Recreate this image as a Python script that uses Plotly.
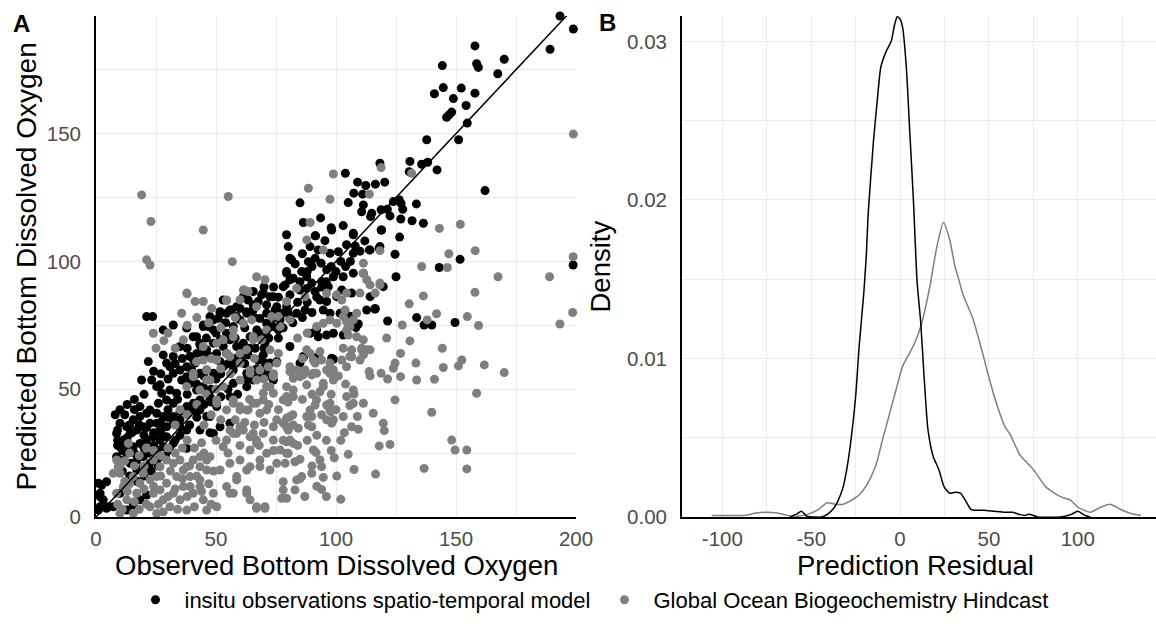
import plotly.graph_objects as go

# ---------------- data ----------------
insitu_points = [
    (193.3,196),(198.9,190.9),(189.2,183),(157.9,184.3),(170.1,179.1),(158.6,177.3),(159.3,175.9),(167.4,173.4),
    (144.3,176.6),(144.7,168),(141,165.6),(152.2,167.8),(157.9,165.8),(148.9,163.7),(154.2,161),(148.2,158.4),
    (147.1,157.3),(146.1,156.4),(154.7,154.1),(137.8,147.6),(151.1,147.6),(130.8,139.1),(118.3,138.4),(135.7,138),
    (138.2,138.8),(142.1,135.8),(130.5,135.1),(162.1,127.7),(103.9,134.5),(109,131),(112.4,129.7),(116.4,130.2),
    (120.3,131),(107.4,126.7),(111.1,126.3),(105.1,123),(111.4,122.1),(110.7,119.4),(114.9,118.8),(114.4,117.5),
    (118.8,120.2),(121.4,120.4),(122.5,117.8),(123.9,123.4),(126.3,124.1),(127.1,122.7),(127.8,120.4),(133.5,122.5),
    (127,116.6),(131.7,115.9),(136.4,114.9),(118.8,112.3),(126.5,109.5),(103,114),(98,113.2),(93.6,117),
    (86.4,115.2),(85,122.9),(91.3,110),(107.2,111),
    (198.8,98.6),(143,97.6),(151.7,100.8),(124.6,102.8),(118,105.1),(113.9,104.5),(125,94),
    (116.3,81.3),(121.5,76.7),(133.6,78),(136.7,75.1),(139.9,75.1),(149.6,76.1),(109.3,75.5),(108.3,74.1),
    (98.9,61.7),(86.4,62.5),(103,71.2),
    (79.4,110.4),(80.1,105.8),(80.8,101.2),(91.5,110),(95.4,108.1),(98.2,112.3),(89.2,105.8),(92.6,104.5),
    (91.3,101.2),(93.8,99.3),(88.5,99.9),(97.5,103.2),(101,103.8),(107.2,110.4),(104.4,106.5),(107.2,103.2),
    (96.1,96.7),(98.9,94),(94,92.1),(96.8,90.1),(79.4,96),(82.2,93.4),(85.7,96),(87.8,94),(89.9,91.5),
    (103,94),(107.2,95.4),(111.4,95.4),(114.2,104.5),(118.3,105.8),(119,112.3),(102.4,88.8),(106.5,87.6),
    (100.3,86.2),(96.1,84.3),(78.8,90.8),(80.8,86.9),(85,88.8),(87.8,89.4),(91.3,88.2),(93.3,84.9),
    (116.3,81.6),(119.7,90.1),(114.2,86.2),(73.9,86.2),(69,86.9),(67.6,84.3),(71.1,83),(74.6,81),(77.4,79.7),
    (79.4,82.3),(61.4,86.2),(63.4,84.9),(65.5,83),(60,81.6),(62.8,80.3),(53,84.9),(56.5,81),(58.6,78.4),
    (51.7,80.3),(54.4,79.7),(50.9,77.7),(47.5,78.4),(44.7,74.5),(46.8,74.5),(48.9,73.2),(68.3,77.7),(71.1,75.8),
    (73.9,74.5),(76.7,77.1),(80.8,77.7),(83.6,79.7),(87.1,81),(94.7,81),(97.5,79.7),(101.7,79.7),(104.4,79.1),
    (106.5,78.4),(112.8,81),(98.9,71.9),(96.1,71.2),(91.9,73.2),(89.2,71.9),(80.8,66.7),(86.4,62.8),(85,60.2),
    (92.6,62.8),(98.2,62.1),(92.6,70.5),(70.4,68),(69.7,63.4),(72.5,60.2),(75.3,60.8),(76,73.2),(71.1,70.5),
    (67,73.2),(64.2,70.5),(61.4,68),(66.3,66),(63.4,63.4),(67.6,61.4),(60,62.8),(58.6,66.7),(55.8,69.3),
    (53,66.7),(54.4,64),(50.3,64),(51.7,60.8),(47.5,62.8),(44.7,64),(44.7,75.1),(41.9,70.5),(43.3,67.3),
    (39.2,62.8),(41.3,60.2),(39.9,57.5),(43.3,56.2),(46.1,57.5),(48.9,56.2),(53,58.8),(57.2,57.5),(61.4,60.2),
    (65.5,56.2),(69,55.6),(70.4,60.2),(39.2,52.3),(41.9,49.7),(44.7,51),(47.5,47.1),(43.3,44.5),(40.5,41.9),
    (57.2,52.3),(62.8,51),(55.8,47.1),(70.4,54.6),
    (21.1,78.4),(23.6,78.4),(21.8,60.8),(19,53.6),(23.2,53.6),(28,63.4),(32.2,62.8),(30.8,58.8),(29.4,60.2),
    (32.2,56.2),(35,57.5),(37.8,58.8),(40.6,61.4),(37.8,54.9),(35.7,53.6),(41.3,55.6),(25.3,51),(27.4,48.4),
    (30.8,49.7),(33.6,48.4),(29.4,45.8),(32.2,44.5),(26,44.5),(18.3,43.2),(22.5,41.9),(25.3,40.6),(28,39.3),
    (32.2,39.3),(35,41.2),(37.8,43.2),(40.6,44.5),(43.3,45.8),(46.1,48.4),(43.3,41.9),(47.5,39.3),(50.3,43.2),
    (51.7,35.3),(55.8,36.7),(48.9,32.7),(32.2,36.7),(35,35.3),(37.8,34),(29.4,35.3),(26.7,34),(43.3,34),(47.5,33),
    (10,36.7),(12.8,35.3),(15.5,38),(18.3,39.3),(21.1,40.6),(8.6,32.7),(11.4,30.1),(14.2,32.7),(17,34),
    (19.7,35.3),(22.5,36.7),(25.3,36.7),(10,27.5),(12.8,24.9),(15.5,27.5),(18.3,28.8),(21.1,30.1),(23.9,31.4),
    (26.7,30.1),(29.4,31.4),(8.6,23.6),(11.4,22.3),(14.2,21),(17,22.3),(19.7,23.6),(22.5,24.9),(25.3,26.2),
    (28,27.5),(17,18.4),(19.7,19.7),(22.5,21),(25.3,22.3),(28,23.6),(30.8,26.2),(32.2,28.8),
    (9,30),(13,28),(16,25),(20,27),(24,28),(14,36),(20,32),(27,33),(12,40),(16,42),
    (1,13.2),(4.4,13.8),(1.7,9.3),(3,6.7),(1.7,4),(4.4,3.4),(7.2,4),(12.8,2.7),(15.5,4.7),(21.1,8.6),
    (18.3,6.7),(10,9.3),(2.4,12.5),(1.7,7.9),(1,2.7),(5.1,4),
    (28,73.2),(32.2,75.1),(37.8,73.9),(35,66.7),(40.5,70.5),(43.3,68),(46.1,65.4),(48.9,68),(51.7,69.3),
    (54.4,71.9),(57.2,74.5),(60,77.1),(62.8,79.7),(65.5,81),(48.9,77.1),(51.7,79.7),(55.8,81),(58.6,82.3),
    (62.1,86.2),(65.5,88.2),(69.7,87.6),(72.5,86.2),(78,90.1),(79.4,95.4),(80.8,92.8),(81.5,100.6),(75.3,82.3),
    (71.1,79.7),(57.2,60.2),(62.8,56.2),(65.5,53.6),(71.1,57.5),(73.9,53.6),(46.1,39.3),(26.7,51.7),(37.8,26.9),
    (30,42),(34,46),(38,48),(42,52),(45,55),(48,50),(50,54),(52,56),(55,60),(58,62),(60,66),(62,60),(64,66),
    (66,70),(68,72),(70,66),(72,70),(74,78),(76,70),(78,74),(80,80),(82,76),(84,84),(86,78),(88,84),(90,80),
    (92,86),(94,90),(96,92),(98,98),(100,96),(102,100),(104,98),(106,100),(108,106),(110,104),(112,108),
    (85,92),(88,96),(90,98),(83,99),(86,103),(76,86),(74,90),(70,90),(66,78),(62,74),(58,70),(54,76),(50,72),
    (46,70),(42,64),(38,66),(36,62),(33,60),(30,54),(27,56),(24,57),(20,48),(16,46),(13,44),(10,42),(8,40),
    (9,34),(11,26),(13,31),(15,33),(18,36),(21,35),(24,33),(27,37),(30,39),(35,38),(39,36),(42,39),(45,44),
    (48,45),(52,47),(55,50),(59,48),(63,54),(67,58),(9,28),(11,18),(14,16),(17,14),(20,16),(23,18),(26,20),
    (29,24),(33,30),(35,32),
]

hindcast_points = [
    (198.9,149.8),(98.9,134.2),(118.8,136.7),(131.5,134.5),(88.5,128.6),(97.5,124.3),(113.9,126.3),(89.2,115.2),
    (143.1,112.9),(151.8,114.5),(198.8,101.8),(167.5,94),(189,94),(158,104.2),(147,103),(135.7,98),(146.4,97.6),
    (118.3,104.2),
    (157.9,87.9),(136.4,86.5),(130.5,83.4),(198.6,80),(193.3,75.5),(141.9,79.5),(138,77.1),(154.7,78.4),
    (159.4,74.9),(127.6,75.1),(121.1,70),(130.8,68.9),(144.3,66),(126.9,64),(124.6,60.2),(123.9,58.2),
    (133.3,60.2),(152.4,61.4),(151,59.1),(144.7,58.5),(161.8,59.5),(170.1,56.5),(126.9,54.9),(121.5,54),
    (118.8,56.2),(113.8,56.9),(114.2,55.2),(133.6,53.6),(141,53.9),(158.6,48.4),(124.6,45.8),(139.9,41),
    (148.2,30.1),(149.6,26.2),(154.5,26.2),(154.5,18.8),(136.7,19),(120.1,33.8),(118,27.8),(122.5,28.4),
    (116.5,16.8),(107.5,18.6),(105.1,24.5),(109.3,34.3),(106.5,35.3),(103.5,33),(108.9,39.3),(107.2,44.5),
    (105.8,43.6),(107.5,48.1),(102,6.9),(100.3,16),(99.3,23.2),(94,10.8),(94.7,15.5),(94,19.7),(93.3,22.3),
    (91.7,25.2),(90.6,26.2),(89.9,17.1),(85.7,15.8),(82.9,10.6),(79.4,7.3),(98.2,36.7),(98.9,38),(97.2,42.5),
    (97.8,41.2),(96.1,43.8),(94.7,51),(93.3,49),(91.9,45.8),(91.3,43.8),(89.9,39.3),(88.5,36),(89.9,35.3),
    (82.2,36),(84.3,34.7),(80.1,34),(79.4,38.6),(82.2,28.8),(79.4,29.4),(80.1,24.9),(78.8,21),(82.9,21.6),
    (85,22.6),(78,13.8),(77.4,7.3),(82.2,49.7),(79.4,47.1),(87.8,65.4),(89.2,64),(90.5,61.4),(93.3,64.7),
    (94,61.4),(96.1,57.5),(97.5,60.2),(98.9,57.5),(101,55.2),(87.1,57.5),(86.4,55.6),(83.6,57.5),(80.8,56.9),
    (91.9,56.2),(89.9,55.6),(87.8,51.7),(82.2,54.3),(102.4,61.4),(104.4,58.8),(103,66),(106.5,62.7),
    (106.5,65.4),(110,61.4),(111.4,63.4),(112.8,65.4),(110.7,66),(104.4,76.4),(105.8,74.5),(105.1,71.2),
    (108.6,79.7),(111.4,69.3),(103,78.4),(100.3,75.8),(97.5,77.1),(94.7,75.8),(91.9,74.5),(103.8,81),
    (102.4,84.9),(104.4,87.6),(111.4,95.4),(112.8,92.8),(114.2,90.8),(116.3,87.6),(118.3,90.8),(111.4,99.3),
    (21.1,100.6),(22.5,98.6),(23.9,71.9),(28.3,69),(36.4,69.3),(37.8,87.6),(41.3,84.3),(44.7,84.3),(48.2,81.6),
    (35.7,79.7),(13.5,28.8),
    (8.6,22.3),(10,17.1),(11.4,11.9),(12.8,6.7),(8.6,9.3),(15.5,15.8),(18.3,13.2),(17,9.3),(19.7,17.1),
    (22.5,14.5),(25.3,15.8),(23.9,9.3),(26.7,10.6),(29.4,13.2),(28,6.7),(32.2,9.3),(30.8,4),(33.6,15.8),
    (36.4,11.9),(35,6.7),(37.8,2.7),(40.5,9.3),(39.2,15.8),(43.3,11.9),(44.7,6.7),(46.1,2.7),(48.9,9.3),
    (23.9,22.3),(26.7,19.7),(29.4,22.3),(32.2,21),(35,22.3),(37.8,19.7),(40.5,22.3),(43.3,19.7),(46.1,22.3),
    (22.5,4),(25.3,1.4),(15.5,1.4),(10,1.4),(7.2,17.1),(9.3,19.7),
    (50.3,45.8),(54.4,41.9),(57.2,45.8),(60,43.2),(62.8,41.9),(65.5,44.5),(68.3,40.6),(71.1,41.9),(75.3,38),
    (79.4,35.3),(54.4,30.1),(57.2,32.7),(60,35.3),(64.2,31.4),(66.9,28.8),(69.7,32.7),(73.9,30.1),(76.7,26.2),
    (80.8,30.1),(51.7,18.4),(55.8,21),(58.6,15.8),(60,22.3),(64.2,19.7),(68.3,22.3),(72.5,18.4),(75.3,21),
    (79.4,24.9),(54.4,11.9),(57.2,9.3),(62.8,10.6),(66.9,3.4),(70.4,3.4),(78,10.6),(83.6,14.5),(50.3,61.4),
    (54.4,64),(60,60.2),(64.2,57.5),(66.9,53.6),(71.1,51),(69.7,45.8),(73.9,48.4),(78,45.8),(44.7,61.4),
    (40.5,56.2),(37.8,51),(46.1,53.6),(50.3,68),(57.2,70.5),(65.5,69.3),(71.1,73.2),(76.7,74.5),(80.8,77.1),
    (19,126),(55.1,125.4),(22.9,115.6),(44.7,112.3),(56.8,99.9),(38,87.3),(54.4,84.7),(61.8,88.8),
    (53,27.5),(55.8,34),(58.6,32.7),(61.4,34),(65.5,32.7),(66.9,30.1),(64.2,26.2),(71.1,24.9),(62.8,18.4),
    (68.3,19.7),(58.6,14.5),(55.8,9.3),(62.8,9.3),(66.9,4),(70.4,4),(50.3,4),(64.2,6.7),(46.1,18.4),
    (43.3,14.5),(39.2,11.9),(36.4,18.4),(43.3,23.6),(47.5,23.6),
    (118.3,91.5),(110,87.6),(107.2,77.1),(104.4,73.2),(108.6,70.5),(114.2,65.4),(110.7,65.4),(105.8,62.8),
    (97.5,56.2),(91.3,60.2),(94.7,52.3),(98.9,53.6),(89.2,41.9),(82.2,47.1),(79.4,51),(73.9,54.9),(72.5,51),
    (69.7,48.4),(66.9,44.5),(63.4,41.9),(60,41.9),(57.2,44.5),(50.3,44.5),(66.9,94),(70.4,92.8),(61.4,88.8),
    (63.4,88.2),(54.4,84.9),(87.8,108.4),(94.7,104.5),(96.1,87.6),(100.3,86.9),(83.6,89.5),(87.1,86.2),
    (79.4,84.3),(66.9,82.3),(73.2,78.4),(76,78.4),(64.9,77.1),(61.4,75.8),(57.2,73.2),(53,69.3),(65.5,70.5),
    (69,69.3),(72.5,65.4),(62.8,65.4),(55.8,62.8),(44.7,66.7),(41.9,60.8),(46.1,57.5),(40.5,54.9),(43.3,49.7),
    (47.5,53.6),(53,51),(60,53.6),(64.2,56.2),(68.3,57.5),(71.8,58.8),(75.3,60.2),(80.8,58.8),(85,54.9),
    (90.5,56.2),(87.8,39.3),(97.5,44.5),(104.4,47.1),(107.2,49.7),(111.4,44.5),(115.5,40.6),(119.7,36.7),
    (103,39.3),(96.1,38),(80.8,39.3),(78,36.7),(73.9,35.3),
    (9,5),(11,3),(13,10),(14,13),(16,6),(18,3),(20,11),(21,5),(24,12),(26,5),(27,16),(28,2),(30,8),(31,18),
    (33,11),(34,3),(36,15),(38,8),(39,20),(41,4),(42,16),(44,10),(45,25),(47,13),(48,5),(49,18),(12,14),
    (10,20),(12,22),(14,25),(16,20),(18,24),(20,20),(21,27),(24,26),(27,24),(30,27),(33,25),(36,27),(38,30),
    (41,27),(44,29),
    (45,36),(48,40),(50,30),(52,38),(55,25),(58,38),(60,28),(62,37),(64,46),(66,36),(68,28),(70,37),(72,44),
    (74,26),(76,42),(78,30),(80,45),(82,40),(84,28),(86,46),(88,30),(90,48),(92,32),(94,40),(96,30),(98,48),
    (100,42),(102,30),(104,52),(85,15),(87,8),(90,20),(92,12),(96,8),(98,26),(86,62),(84,70),(88,72),(76,64),
    (74,56),(70,54),(66,62),(60,64),(56,56),(52,58),(48,62),(46,48),(42,44),(50,50),(35,42),(38,40),(33,36),
    (25,66),(30,72),(33,66),(38,75),(42,78),(47,76),(52,74),(58,78),(60,85),
]

insitu_observed = [p[0] for p in insitu_points]
insitu_predicted = [p[1] for p in insitu_points]
hindcast_observed = [p[0] for p in hindcast_points]
hindcast_predicted = [p[1] for p in hindcast_points]

identity_line = [0, 200]

insitu_resid = [-62, -58, -55.5, -52.5, -48, -44, -40, -37, -35, -32, -30, -28, -25, -23, -20.5, -19, -17.9,
                -14.9, -12.8, -10.8, -7.7, -5, -3, -1.6, 0, 1.4, 3.5, 5.5, 7.5, 9.6, 11.6, 13.6, 15.7, 18.7,
                21.8, 24.8, 27.9, 30.9, 34, 37, 40, 43, 47, 53, 59, 63.5, 67.5, 70, 72.6, 77.7, 90, 96, 100,
                104, 107]
insitu_density = [0.0, 0.0002, 0.00036, 0.00005, 0.0, 0.0, 0.00025, 0.0006, 0.001, 0.0019, 0.003, 0.0045,
                  0.0076, 0.0108, 0.014, 0.0165, 0.0192, 0.0238, 0.0263, 0.0284, 0.0294, 0.0300, 0.0311,
                  0.03155, 0.0314, 0.0309, 0.0284, 0.0242, 0.020, 0.0148, 0.0123, 0.0087, 0.0055, 0.0038,
                  0.003, 0.0019, 0.0015, 0.00156, 0.0015, 0.001, 0.00046, 0.00042, 0.00042, 0.00036, 0.0003,
                  0.0003, 0.00015, 0.0001, 0.00018, 0.0, 0.0, 0.00015, 0.00036, 0.0001, 0.0]

hindcast_resid = [-106, -97, -87, -81, -75, -69, -60.6, -52.5, -46, -41, -36, -32, -24, -18.9, -13.8, -9.8,
                  -5.7, -1.6, 1.4, 7.5, 11.6, 16.7, 18.7, 20.8, 24.4, 27.9, 30.9, 33, 35.5, 41, 47, 50, 53, 59,
                  62, 67.5, 75, 82, 90, 96, 100, 107, 112, 118, 124.5, 130.6, 135.5]
hindcast_density = [0.0001, 0.0001, 0.0001, 0.00025, 0.0003, 0.00025, 0.00004, 0.00015, 0.00046, 0.0009,
                    0.0008, 0.0008, 0.0013, 0.002, 0.0032, 0.0049, 0.0066, 0.0083, 0.0095, 0.0108, 0.012,
                    0.0145, 0.0158, 0.0171, 0.01858, 0.0175, 0.0158, 0.015, 0.014, 0.0125, 0.0101, 0.0088,
                    0.0076, 0.0057, 0.0052, 0.0039, 0.0030, 0.0019, 0.0013, 0.00105, 0.00063, 0.0003, 0.00057,
                    0.0008, 0.00046, 0.0002, 0.0001]

left_ticks = [0, 50, 100, 150, 200]
left_yticks = [0, 50, 100, 150]
resid_ticks = [-100, -50, 0, 50, 100]
resid_ticktext = ["-100", "-50", "0", "50", "100"]
dens_ticks = [0, 0.01, 0.02, 0.03]
dens_ticktext = ["0.00", "0.01", "0.02", "0.03"]

BLACK = "#000000"
GREY = "#7f7f7f"
FONT = "Liberation Sans, Arial, Helvetica, sans-serif"
W, H = 1156, 637

def px_x(v):
    return v / W

def px_y(v):
    return 1 - v / H

fig = go.Figure()

fig.add_trace(go.Scatter(x=insitu_observed, y=insitu_predicted, mode="markers",
                         marker=dict(color=BLACK, size=9, line=dict(width=0)),
                         name="insitu observations spatio-temporal model", cliponaxis=False,
                         xaxis="x", yaxis="y"))
fig.add_trace(go.Scatter(x=hindcast_observed, y=hindcast_predicted, mode="markers",
                         marker=dict(color=GREY, size=9, line=dict(width=0)),
                         name="Global Ocean Biogeochemistry Hindcast", cliponaxis=False,
                         xaxis="x", yaxis="y"))
fig.add_trace(go.Scatter(x=identity_line, y=identity_line, mode="lines",
                         line=dict(color=BLACK, width=1.5), showlegend=False,
                         xaxis="x", yaxis="y", hoverinfo="skip"))

fig.add_trace(go.Scatter(x=hindcast_resid, y=hindcast_density, mode="lines",
                         line=dict(color=GREY, width=1.5, shape="spline", smoothing=0.6),
                         showlegend=False, xaxis="x2", yaxis="y2"))
fig.add_trace(go.Scatter(x=insitu_resid, y=insitu_density, mode="lines",
                         line=dict(color=BLACK, width=1.5, shape="spline", smoothing=0.6),
                         showlegend=False, xaxis="x2", yaxis="y2"))

grid = "#ebebeb"
common = dict(showgrid=True, gridcolor=grid, gridwidth=1.1, zeroline=False, showline=True,
              linecolor=BLACK, linewidth=1.8, tickcolor="rgba(0,0,0,0)",
              tickfont=dict(family=FONT, size=20.5, color="#4d4d4d"), automargin=False)

fig.update_layout(
    width=W, height=H,
    margin=dict(l=0, r=0, t=0, b=0),
    paper_bgcolor="white", plot_bgcolor="white",
    font=dict(family=FONT),
    xaxis=dict(domain=[px_x(96), px_x(576)], range=[0, 200], tickvals=left_ticks, anchor="y",
               ticks="outside", ticklen=2,
               minor=dict(tickvals=[25, 75, 125, 175], showgrid=True, gridcolor=grid, gridwidth=0.55),
               **common),
    yaxis=dict(domain=[px_y(517), px_y(16)], range=[0, 196], tickvals=left_yticks, anchor="x",
               ticks="outside", ticklen=9,
               minor=dict(tickvals=[25, 75, 125, 175], showgrid=True, gridcolor=grid, gridwidth=0.55),
               **common),
    xaxis2=dict(domain=[px_x(682), 1.0], range=[-122.7, 144], tickvals=resid_ticks, ticktext=resid_ticktext,
                anchor="y2", ticks="outside", ticklen=2,
                minor=dict(tickvals=[-125, -75, -25, 25, 75, 125], showgrid=True, gridcolor=grid, gridwidth=0.55),
                **common),
    yaxis2=dict(domain=[px_y(517), px_y(16)], range=[0, 0.0316], tickvals=dens_ticks, ticktext=dens_ticktext,
                anchor="x2", ticks="outside", ticklen=9,
                minor=dict(tickvals=[0.005, 0.015, 0.025], showgrid=True, gridcolor=grid, gridwidth=0.55),
                **common),
    showlegend=True,
    legend=dict(orientation="h", x=px_x(590), xanchor="center", y=px_y(600), yanchor="middle",
                itemwidth=48,
                font=dict(family=FONT, size=22, color=BLACK), bgcolor="rgba(0,0,0,0)"),
)

title_font = dict(family=FONT, size=27.5, color=BLACK)
fig.add_annotation(text="Observed Bottom Dissolved Oxygen", x=px_x(336), y=px_y(565), xref="paper", yref="paper",
                   showarrow=False, font=title_font, xanchor="center", yanchor="middle")
fig.add_annotation(text="Prediction Residual", x=px_x(915), y=px_y(565), xref="paper", yref="paper",
                   showarrow=False, font=title_font, xanchor="center", yanchor="middle")
fig.add_annotation(text="Predicted Bottom Dissolved Oxygen", x=px_x(26), y=px_y(266.5), xref="paper", yref="paper",
                   showarrow=False, font=dict(family=FONT, size=28, color=BLACK), textangle=-90,
                   xanchor="center", yanchor="middle")
fig.add_annotation(text="Density", x=px_x(600), y=px_y(266.5), xref="paper", yref="paper",
                   showarrow=False, font=title_font, textangle=-90, xanchor="center", yanchor="middle")
fig.add_annotation(text="<b>A</b>", x=px_x(21), y=px_y(23), xref="paper", yref="paper",
                   showarrow=False, font=dict(family=FONT, size=24, color=BLACK), xanchor="center", yanchor="middle")
fig.add_annotation(text="<b>B</b>", x=px_x(607), y=px_y(22), xref="paper", yref="paper",
                   showarrow=False, font=dict(family=FONT, size=24, color=BLACK), xanchor="center", yanchor="middle")

fig.write_html("out.html")
